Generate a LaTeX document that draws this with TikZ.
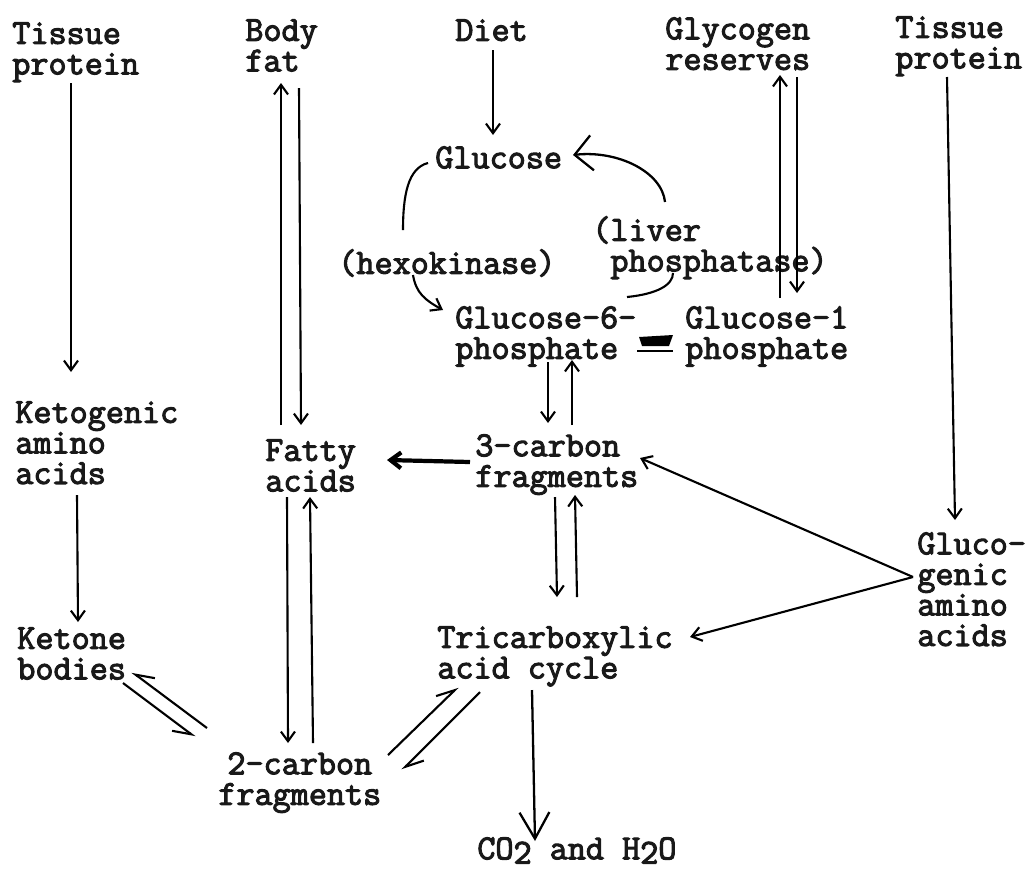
\documentclass[tikz,border=0pt]{standalone}
\usepackage{fontspec}
\newfontfamily\typewriter{Latin Modern Mono}[FakeBold=3]
\usepackage{tikz}
\usetikzlibrary{arrows.meta}

\newcommand{\lowered}[1]{\raisebox{-2.5pt}{#1}}

\begin{document}
\begin{tikzpicture}[x=0.02cm, y=-0.02cm, every node/.style={font=\typewriter\fontsize{20}{17.4}\selectfont}]
			% Styles
			\tikzstyle{term} = [anchor=north west, inner sep=0pt, align=left, text=black!90]
			\tikzset{px_off/.style={shift={(#1)}}}
			\tikzstyle{flow} = [line width=1.2pt, -{Straight Barb[length=5.5pt,width=8pt]}]
			\tikzstyle{plain_flow} = [line width=1.2pt]
			\tikzstyle{thick_flow} = [line width=2.4pt, -{Straight Barb[length=6pt,width=9pt]}]
			\tikzstyle{big_head} = [line width=1.3pt, -{Straight Barb[length=10pt,width=20pt]}]
			\tikzstyle{wide_head} = [line width=1.3pt, -{Straight Barb[length=15pt,width=17pt]}]
			\tikzstyle{harp_r} = [line width=1.2pt, -{Straight Barb[right,length=10pt,width=10pt]}]
			\tikzstyle{harp_l} = [line width=1.2pt, -{Straight Barb[left,length=10pt,width=10pt]}]

			\useasboundingbox (0,0) rectangle (1033,873);

			% Sources along the top
			\node[term] (tissL) at (12,22) {Tissue\\protein};
			\node[term] (bodyfat) at (245,19) {Body\\fat};
			\node[term] (diet) at (455,19) {Diet};
			\node[term] (glycogen) at (665,17) {Glycogen\\reserves};
			\node[term] (tissR) at (895,16) {Tissue\\protein};

			% Glucose cycle
			\node[term] (glucose) at (435,146) {Glucose};
			\node[term] (hexo) at (338,249) {(hexokinase)};
			\node[term] (liver) at (592,216) {(liver\\\phantom{(}phosphatase)};
			\node[term] (g6p) at (455,306) {Glucose-6-\\phosphate};
			\node[term] (g1p) at (685,306) {Glucose-1\\phosphate};

			% Middle row
			\node[term] (ketogenic) at (15,401) {Ketogenic\\amino\\acids};
			\node[term] (fatty) at (265,439) {Fatty\\acids};
			\node[term] (c3) at (475,434) {3-carbon\\fragments};
			\node[term] (gluco) at (917,532) {Gluco-\\genic\\amino\\acids};

			% Lower row
			\node[term] (ketone) at (17,627) {Ketone\\bodies};
			\node[term] (tca) at (437,626) {Tricarboxylic\\acid cycle};
			\node[term, align=center] (c2) at (218,752) {2-carbon\\fragments};
			\node[term] (co2) at (477,837) {CO\lowered{2} and H\lowered{2}O};

			% Tissue protein (left) and body fat
			\draw[flow] ([px_off={59,61}]tissL.north west) -- ([px_off={56,-29}]ketogenic.north west);
			\draw[flow] ([px_off={16,-14}]fatty.north west) -- ([px_off={36,64}]bodyfat.north west);
			\draw[flow] ([px_off={54,69}]bodyfat.north west) -- ([px_off={36,-14}]fatty.north west);

			% Diet and the glucose loop
			\draw[flow] ([px_off={38,31}]diet.north west) -- ([px_off={58,-11}]glucose.north west);
			\draw[plain_flow] ([px_off={-7,17}]glucose.north west) .. controls +(-20,5) and +(0,-35) .. ([px_off={65,-19}]hexo.north west);
			\draw[flow] ([px_off={75,26}]hexo.north west) .. controls +(3,18) and +(-18,-10) .. ([px_off={-12,4}]g6p.north west);
			\draw[plain_flow] ([px_off={172,-9}]g6p.north west) .. controls +(30,-3) and +(0,12) .. ([px_off={81,57}]liver.north west);
			\draw[big_head] ([px_off={73,-14}]liver.north west) .. controls +(-3,-30) and +(45,-5) .. ([px_off={138,9}]glucose.north west);

			% Glucose-6-phosphate / Glucose-1 phosphate
			\fill ([px_off={184,31}]g6p.north west) -- ++(34,-2) -- ++(-4,11) -- ++(-27,0) -- cycle;
			\draw[line width=1.5pt] ([px_off={182,45}]g6p.north west) -- ++(36,0);

			% Glycogen reserves
			\draw[flow] ([px_off={95,-8}]g1p.north west) -- ([px_off={115,58}]glycogen.north west);
			\draw[flow] ([px_off={132,60}]glycogen.north west) -- ([px_off={112,-13}]g1p.north west);

			% 3-carbon fragments
			\draw[flow] ([px_off={93,56}]g6p.north west) -- ([px_off={73,-11}]c3.north west);
			\draw[flow] ([px_off={97,-9}]c3.north west) -- ([px_off={117,54}]g6p.north west);
			\draw[thick_flow] ([px_off={-5,28}]c3.north west) -- ([px_off={122,21}]fatty.north west);
			\draw[flow] ([px_off={80,63}]c3.north west) -- ([px_off={120,-29}]tca.north west);
			\draw[flow] ([px_off={140,-29}]tca.north west) -- ([px_off={100,61}]c3.north west);

			% 2-carbon fragments
			\draw[flow] ([px_off={22,58}]fatty.north west) -- ([px_off={70,-9}]c2.north west);
			\draw[flow] ([px_off={95,-9}]c2.north west) -- ([px_off={45,58}]fatty.north west);
			\draw[flow] ([px_off={62,94}]ketogenic.north west) -- ([px_off={61,-5}]ketone.north west);
			\draw[harp_r] ([px_off={-11,-24}]c2.north west) -- ([px_off={115,45}]ketone.north west);
			\draw[harp_r] ([px_off={106,56}]ketone.north west) -- ([px_off={-23,-15}]c2.north west);
			\draw[harp_l] ([px_off={170,3}]c2.north west) -- ([px_off={21,61}]tca.north west);
			\draw[harp_l] ([px_off={43,66}]tca.north west) -- ([px_off={184,18}]c2.north west);

			% End products
			\draw[wide_head] ([px_off={95,64}]tca.north west) -- ([px_off={58,4}]co2.north west);

			% Tissue protein (right)
			\draw[flow] ([px_off={52,61}]tissR.north west) -- ([px_off={38,-12}]gluco.north west);
			\draw[flow] ([px_off={-4,45}]gluco.north west) -- ([px_off={165,24}]c3.north west);
			\draw[flow] ([px_off={-4,45}]gluco.north west) -- ([px_off={253,11}]tca.north west);

		\end{tikzpicture}
\end{document}
